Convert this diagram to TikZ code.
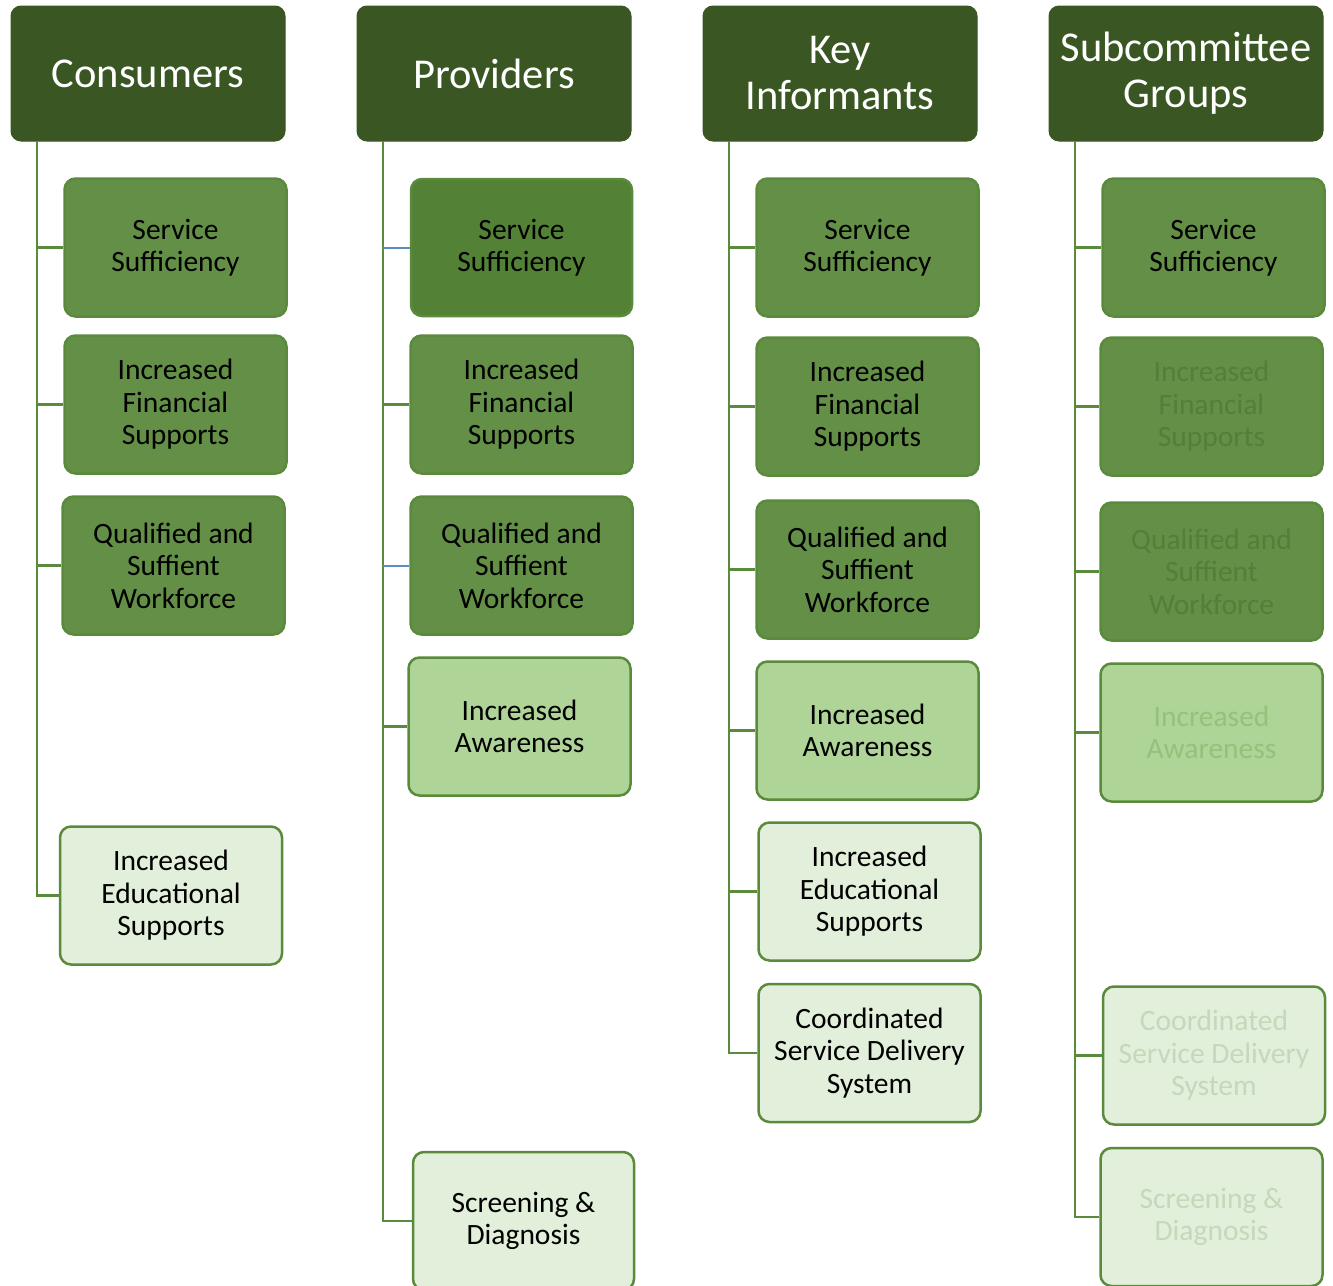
\documentclass[tikz,border=0pt]{standalone}
\usepackage{fontspec}
\setmainfont{Carlito}
\definecolor{hdr}{HTML}{3A5723}
\definecolor{midg}{HTML}{638F46}
\definecolor{darkg}{HTML}{538135}
\definecolor{lightg}{HTML}{AED497}
\definecolor{paleg}{HTML}{E2EFDA}
\definecolor{edge}{HTML}{5A8A3C}
\definecolor{blueln}{HTML}{5B8DC0}
\definecolor{fadeMid}{HTML}{547E39}
\definecolor{fadeLight}{HTML}{95C17D}
\definecolor{fadePale}{HTML}{C6D7BC}
\tikzset{
  hdrbox/.style={draw=hdr, fill=hdr, rounded corners=10pt, line width=1pt,
    minimum width=274pt, minimum height=135pt, align=center, inner sep=0pt,
    text=white, font=\fontsize{42.5}{46}\selectfont},
  cbox/.style={draw=edge, rounded corners=11pt, line width=2.5pt,
    minimum width=222pt, minimum height=138pt, align=center, inner sep=0pt,
    text=black, font=\fontsize{29.5}{32.5}\selectfont},
  midbox/.style={cbox, fill=midg},
  darkbox/.style={cbox, fill=darkg},
  lightbox/.style={cbox, fill=lightg},
  palebox/.style={cbox, fill=paleg},
  conn/.style={draw=edge, line width=2.5pt},
  bconn/.style={draw=blueln, line width=2pt}
}
\begin{document}
\begin{tikzpicture}[x=1pt,y=-1pt]
\useasboundingbox (0,0) rectangle (1333,1285);
% headers
\node[hdrbox] (h1) at (148,73.5) {Consumers};
\node[hdrbox] (h2) at (494,73.5) {Providers};
\node[hdrbox] (h3) at (840,73.5) {Key\\Informants};
\node[hdrbox] (h4) at (1186,73.5) {Subcommittee\\Groups};
% trunk coordinates
\coordinate (t1) at (37,141);
\coordinate (t2) at (383,141);
\coordinate (t3) at (729,141);
\coordinate (t4) at (1075,141);
% Consumers
\node[midbox] (c1) at (175.5,247.5) {Service\\Sufficiency};
\node[midbox] (c2) at (175.5,404.5) {Increased\\Financial\\Supports};
\node[midbox] (c3) at (173.5,565.5) {Qualified and\\Suffient\\Workforce};
\node[palebox] (c4) at (171,895.5) {Increased\\Educational\\Supports};
% Providers
\node[darkbox, minimum width=221pt, minimum height=137pt] (p1) at (521.5,247.5) {Service\\Sufficiency};
\node[midbox] (p2) at (521.5,404.5) {Increased\\Financial\\Supports};
\node[midbox] (p3) at (521.5,565.5) {Qualified and\\Suffient\\Workforce};
\node[lightbox] (p4) at (519.5,726.5) {Increased\\Awareness};
\node[palebox, minimum width=221pt] (p5) at (523.5,1221) {Screening \&\\Diagnosis};
% Key Informants
\node[midbox] (k1) at (867.5,247.5) {Service\\Sufficiency};
\node[midbox] (k2) at (867.5,406.5) {Increased\\Financial\\Supports};
\node[midbox] (k3) at (867.5,569.5) {Qualified and\\Suffient\\Workforce};
\node[lightbox] (k4) at (867.5,730.5) {Increased\\Awareness};
\node[palebox] (k5) at (869.5,891.5) {Increased\\Educational\\Supports};
\node[palebox] (k6) at (869.5,1053) {Coordinated\\Service Delivery\\System};
% Subcommittee
\node[midbox] (s1) at (1213.5,247.5) {Service\\Sufficiency};
\node[midbox, text=fadeMid] (s2) at (1211.5,406.5) {Increased\\Financial\\Supports};
\node[midbox, text=fadeMid] (s3) at (1211.5,571.5) {Qualified and\\Suffient\\Workforce};
\node[lightbox, text=fadeLight] (s4) at (1211.5,732.5) {Increased\\Awareness};
\node[palebox, text=fadePale] (s5) at (1214,1055.5) {Coordinated\\Service Delivery\\System};
\node[palebox, text=fadePale] (s6) at (1211.5,1217) {Screening \&\\Diagnosis};
% connectors
\draw[conn] (t1) |- (c4.west);
\draw[conn] (t1) |- (c1.west);
\draw[conn] (t1) |- (c2.west);
\draw[conn] (t1) |- (c3.west);
\draw[conn] (t2) |- (p5.west);
\draw[conn] (t2) |- (p2.west);
\draw[conn] (t2) |- (p4.west);
\draw[bconn] (t2 |- p1.west) -- (p1.west);
\draw[bconn] (t2 |- p3.west) -- (p3.west);
\draw[conn] (t3) |- (k6.west);
\draw[conn] (t3) |- (k1.west);
\draw[conn] (t3) |- (k2.west);
\draw[conn] (t3) |- (k3.west);
\draw[conn] (t3) |- (k4.west);
\draw[conn] (t3) |- (k5.west);
\draw[conn] (t4) |- (s6.west);
\draw[conn] (t4) |- (s1.west);
\draw[conn] (t4) |- (s2.west);
\draw[conn] (t4) |- (s3.west);
\draw[conn] (t4) |- (s4.west);
\draw[conn] (t4) |- (s5.west);
\end{tikzpicture}
\end{document}
